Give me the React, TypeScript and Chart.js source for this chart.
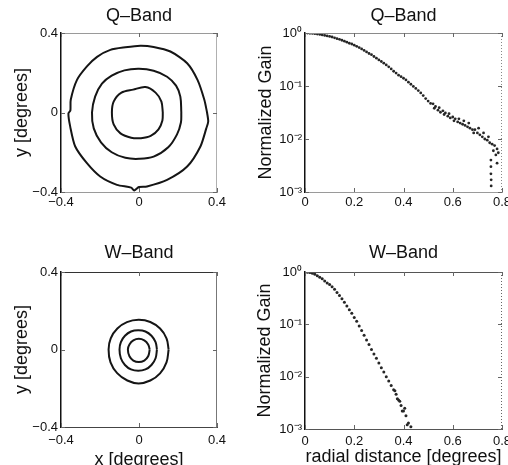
import React, { useEffect, useRef } from "react";
import { Chart, registerables } from "chart.js";

Chart.register(...registerables);

const FONT = "'Liberation Sans', Arial, Helvetica, sans-serif";

// ---------------- Data ----------------
const contourTicks = [-0.4, 0, 0.4];
const radialTicks = [0, 0.2, 0.4, 0.6, 0.8];
const gainTicks = [0.001, 0.01, 0.1, 1];
const gainTickLabels = ["10⁻³", "10⁻²", "10⁻¹", "10⁰"];

// Q-band beam contours (x, y in degrees)
const qOuterX = [0.349, 0.335, 0.3, 0.247, 0.161, 0.075, 0.007, -0.07, -0.147, -0.215, -0.267, -0.318, -0.35, -0.352, -0.362, -0.353, -0.327, -0.267, -0.199, -0.113, -0.04, -0.025, 0.0, 0.041, 0.144, 0.247, 0.315, 0.345, 0.355, 0.349];
const qOuterY = [0.0, 0.064, 0.164, 0.248, 0.307, 0.33, 0.336, 0.328, 0.315, 0.28, 0.232, 0.164, 0.064, 0.01, -0.005, -0.07, -0.171, -0.255, -0.322, -0.364, -0.378, -0.392, -0.375, -0.372, -0.339, -0.272, -0.171, -0.08, -0.045, 0.0];
const qMidX = [0.217, 0.212, 0.19, 0.144, 0.075, 0.0, -0.075, -0.14, -0.19, -0.225, -0.241, -0.232, -0.195, -0.14, -0.07, 0.0, 0.075, 0.15, 0.195, 0.215, 0.217];
const qMidY = [0.0, 0.08, 0.135, 0.18, 0.21, 0.22, 0.212, 0.185, 0.145, 0.08, 0.0, -0.08, -0.15, -0.2, -0.228, -0.233, -0.222, -0.175, -0.11, -0.05, 0.0];
const qInX = [0.122, 0.115, 0.085, 0.033, -0.03, -0.09, -0.13, -0.139, -0.13, -0.095, -0.04, 0.01, 0.06, 0.1, 0.12, 0.122];
const qInY = [0.0, 0.055, 0.1, 0.128, 0.115, 0.1, 0.055, 0.0, -0.06, -0.105, -0.127, -0.129, -0.118, -0.085, -0.04, 0.0];

// W-band beam contours (x, y in degrees)
const wOuterX = [0.152, 0.141, 0.108, 0.058, -0.002, -0.062, -0.111, -0.145, -0.156, -0.146, -0.112, -0.06, -0.002, 0.058, 0.108, 0.141, 0.152];
const wOuterY = [0.0, 0.058, 0.108, 0.142, 0.153, 0.141, 0.108, 0.058, 0.0, -0.066, -0.122, -0.16, -0.175, -0.16, -0.123, -0.066, 0.0];
const wMidX = [0.092, 0.085, 0.064, 0.033, -0.004, -0.041, -0.072, -0.093, -0.1, -0.093, -0.072, -0.041, -0.004, 0.033, 0.064, 0.085, 0.092];
const wMidY = [0.0, 0.038, 0.071, 0.093, 0.099, 0.093, 0.071, 0.038, 0.0, -0.045, -0.08, -0.103, -0.11, -0.103, -0.08, -0.045, 0.0];
const wInX = [0.055, 0.047, 0.027, -0.001, -0.029, -0.049, -0.057, -0.049, -0.029, -0.001, 0.027, 0.047, 0.055];
const wInY = [0.0, 0.026, 0.047, 0.055, 0.047, 0.026, 0.0, -0.035, -0.057, -0.065, -0.057, -0.035, 0.0];

// Q-band radial profile (radial distance in degrees, normalized gain)
const qRadius = [
  0.01, 0.02, 0.03, 0.04, 0.05, 0.06, 0.07, 0.08, 0.09, 0.1,
  0.11, 0.12, 0.13, 0.14, 0.15, 0.16, 0.17, 0.18, 0.19, 0.2,
  0.21, 0.22, 0.23, 0.24, 0.25, 0.26, 0.27, 0.28, 0.29, 0.3,
  0.31, 0.32, 0.33, 0.34, 0.35, 0.36, 0.37, 0.38, 0.39, 0.4,
  0.41, 0.42, 0.43, 0.44, 0.45, 0.46, 0.47, 0.48, 0.49, 0.5, 0.51,
  0.52, 0.525, 0.53, 0.54, 0.545, 0.55, 0.56, 0.565, 0.57, 0.58,
  0.585, 0.59, 0.6, 0.605, 0.61, 0.62, 0.625, 0.63, 0.64, 0.645,
  0.65, 0.66, 0.665, 0.67, 0.68, 0.685, 0.69, 0.7, 0.705, 0.71,
  0.72, 0.725, 0.73, 0.74, 0.745, 0.75, 0.755, 0.755, 0.755, 0.756,
  0.756, 0.76, 0.765, 0.77, 0.775, 0.78, 0.78, 0.785,
];
const qGain = [
  1.0, 0.99, 0.98, 0.97, 0.955, 0.94, 0.92, 0.9, 0.88, 0.86,
  0.84, 0.81, 0.78, 0.76, 0.73, 0.7, 0.67, 0.64, 0.62, 0.59,
  0.56, 0.53, 0.5, 0.47, 0.44, 0.41, 0.39, 0.36, 0.335, 0.31,
  0.29, 0.27, 0.25, 0.23, 0.21, 0.19, 0.175, 0.16, 0.15, 0.14,
  0.13, 0.118, 0.108, 0.098, 0.09, 0.082, 0.074, 0.066, 0.058, 0.052, 0.047,
  0.046, 0.038, 0.041, 0.035, 0.039, 0.032, 0.034, 0.029, 0.031, 0.027,
  0.03, 0.025, 0.026, 0.022, 0.024, 0.021, 0.024, 0.02, 0.019, 0.022,
  0.018, 0.017, 0.02, 0.016, 0.015, 0.013, 0.015, 0.013, 0.016, 0.012,
  0.011, 0.013, 0.01, 0.0095, 0.011, 0.0085, 0.004, 0.003, 0.0022, 0.0017,
  0.0013, 0.008, 0.006, 0.0075, 0.005, 0.0065, 0.0035, 0.0055,
];

// W-band radial profile
const wRadius = [
  0.0, 0.01, 0.02, 0.03, 0.04, 0.05, 0.06, 0.07, 0.08, 0.09,
  0.1, 0.11, 0.12, 0.13, 0.14, 0.15, 0.16, 0.17, 0.18, 0.19,
  0.2, 0.21, 0.22, 0.23, 0.24, 0.25, 0.26, 0.27, 0.28, 0.29,
  0.3, 0.31, 0.32, 0.33, 0.34, 0.35, 0.36, 0.37, 0.38, 0.39,
  0.4, 0.41, 0.42, 0.43,
  0.365, 0.375, 0.385, 0.395, 0.405, 0.415,
];
const wGain = [
  1.0, 0.993, 0.977, 0.944, 0.902, 0.851, 0.794, 0.74, 0.676, 0.617,
  0.575, 0.525, 0.468, 0.407, 0.355, 0.309, 0.263, 0.224, 0.191, 0.162,
  0.135, 0.115, 0.093, 0.076, 0.062, 0.05, 0.041, 0.033, 0.027, 0.0224,
  0.0182, 0.0148, 0.0123, 0.01, 0.0083, 0.0068, 0.0056, 0.0046, 0.0036, 0.0028,
  0.0022, 0.0018, 0.0013, 0.0011,
  0.0054, 0.0038, 0.0034, 0.0022, 0.0025, 0.0012,
];

// ---------------- Helpers ----------------
const pts = (xs: number[], ys: number[]) => xs.map((x, i) => ({ x, y: ys[i] }));
const fmt = (v: number) =>
  Math.abs(v) < 1e-9 ? "0" : (v < 0 ? "−" : "") + Math.abs(v).toFixed(1);

type FrameOpts = { top: string; right: string; rightDash?: number[] };

const framePlugin = (f: FrameOpts) => ({
  id: "frame",
  afterDatasetsDraw(chart: any) {
    const { ctx, chartArea: a, scales } = chart;
    ctx.save();
    ctx.lineWidth = 1;
    ctx.strokeStyle = f.top;
    ctx.beginPath();
    ctx.moveTo(a.left, a.top + 0.5);
    ctx.lineTo(a.right, a.top + 0.5);
    ctx.stroke();
    ctx.strokeStyle = f.right;
    if (f.rightDash) ctx.setLineDash(f.rightDash);
    ctx.beginPath();
    ctx.moveTo(a.right - 0.5, a.top);
    ctx.lineTo(a.right - 0.5, a.bottom);
    ctx.stroke();
    ctx.setLineDash([]);
    // inward tick marks (MATLAB style)
    ctx.strokeStyle = "#666";
    const L = 4;
    for (const t of scales.x.ticks) {
      const px = Math.round(scales.x.getPixelForValue(t.value)) + 0.5;
      ctx.beginPath();
      ctx.moveTo(px, a.bottom);
      ctx.lineTo(px, a.bottom - L);
      ctx.moveTo(px, a.top);
      ctx.lineTo(px, a.top + L);
      ctx.stroke();
    }
    for (const t of scales.y.ticks) {
      const py = Math.round(scales.y.getPixelForValue(t.value)) + 0.5;
      ctx.beginPath();
      ctx.moveTo(a.left, py);
      ctx.lineTo(a.left + L, py);
      ctx.moveTo(a.right, py);
      ctx.lineTo(a.right - L, py);
      ctx.stroke();
    }
    ctx.restore();
  },
});

type PanelCfg = {
  title: string;
  titleTop: number;
  titleBottom: number;
  padLeft: number;
  padRight: number;
  yWidth: number;
  xHeight: number;
  xTickPad: number;
  yTitle: string;
  xTitle?: string;
  xTitleBottom?: number;
  xMin: number;
  xMax: number;
  xTicks: number[];
  log: boolean;
  datasets: any[];
  frame: FrameOpts;
  xBorder: string;
};

function buildConfig(p: PanelCfg): any {
  const yCommon = {
    grid: { display: false, drawTicks: false },
    border: { display: true, color: "#111", width: 1.5 },
    afterFit: (s: any) => {
      s.width = p.yWidth;
    },
    title: {
      display: true,
      text: p.yTitle,
      color: "#111",
      font: { family: FONT, size: 18 },
      padding: 0,
    },
  };
  return {
    type: "scatter",
    data: { datasets: p.datasets },
    plugins: [framePlugin(p.frame)],
    options: {
      responsive: false,
      animation: false,
      events: [],
      layout: { padding: { left: p.padLeft, right: p.padRight, top: 0, bottom: 0 } },
      plugins: {
        legend: { display: false },
        tooltip: { enabled: false },
        title: {
          display: true,
          text: p.title,
          fullSize: false,
          color: "#111",
          font: { family: FONT, size: 18, weight: "normal" },
          padding: { top: p.titleTop, bottom: p.titleBottom },
        },
      },
      scales: {
        x: {
          type: "linear",
          min: p.xMin,
          max: p.xMax,
          grid: { display: false, drawTicks: false },
          border: { display: true, color: p.xBorder, width: 1 },
          afterBuildTicks: (s: any) => {
            s.ticks = p.xTicks.map((value) => ({ value }));
          },
          afterFit: (s: any) => {
            s.height = p.xHeight;
          },
          ticks: {
            color: "#111",
            padding: p.xTickPad,
            maxRotation: 0,
            autoSkip: false,
            font: { family: FONT, size: 13 },
            callback: (v: any) => fmt(Number(v)),
          },
          title: p.xTitle
            ? {
                display: true,
                text: p.xTitle,
                color: "#111",
                font: { family: FONT, size: 18 },
                padding: { top: 0, bottom: p.xTitleBottom ?? 0 },
              }
            : { display: false },
        },
        y: p.log
          ? {
              ...yCommon,
              type: "logarithmic",
              min: 0.001,
              max: 1,
              afterBuildTicks: (s: any) => {
                s.ticks = gainTicks.map((value) => ({ value }));
              },
              ticks: {
                color: "#111",
                padding: 3,
                autoSkip: false,
                font: { family: FONT, size: 13 },
                callback: (_v: any, i: number) => gainTickLabels[i],
              },
            }
          : {
              ...yCommon,
              type: "linear",
              min: -0.4,
              max: 0.4,
              afterBuildTicks: (s: any) => {
                s.ticks = contourTicks.map((value) => ({ value }));
              },
              ticks: {
                color: "#111",
                padding: 3,
                autoSkip: false,
                font: { family: FONT, size: 13 },
                callback: (v: any) => fmt(Number(v)),
              },
            },
      },
    },
  };
}

const contourSet = (xs: number[], ys: number[], tension: number) => ({
  data: pts(xs, ys),
  showLine: true,
  pointRadius: 0,
  borderColor: "#151515",
  borderWidth: 2,
  tension,
});

const dotSet = (xs: number[], ys: number[], r: number) => ({
  data: pts(xs, ys),
  showLine: false,
  pointRadius: r,
  pointBorderWidth: 0,
  backgroundColor: "#262626",
  borderColor: "#262626",
});

function Panel(props: { left: number; top: number; width: number; height: number; cfg: PanelCfg }) {
  const ref = useRef<HTMLCanvasElement>(null);
  useEffect(() => {
    const chart = new Chart(ref.current as HTMLCanvasElement, buildConfig(props.cfg));
    return () => chart.destroy();
  }, []);
  return (
    <canvas
      ref={ref}
      width={props.width}
      height={props.height}
      style={{
        position: "absolute",
        left: props.left,
        top: props.top,
        width: props.width,
        height: props.height,
      }}
    />
  );
}

export default function App() {
  const qContour: PanelCfg = {
    title: "Q–Band",
    titleTop: 5,
    titleBottom: 6.4,
    padLeft: 11,
    padRight: 37,
    yWidth: 50,
    xHeight: 40,
    xTickPad: 3,
    yTitle: "y [degrees]",
    xMin: -0.4,
    xMax: 0.4,
    xTicks: contourTicks,
    log: false,
    datasets: [
      contourSet(qOuterX, qOuterY, 0.25),
      contourSet(qMidX, qMidY, 0.35),
      contourSet(qInX, qInY, 0.3),
    ],
    frame: { top: "#9a9a9a", right: "#b0b0b0" },
    xBorder: "#9a9a9a",
  };
  const qProfile: PanelCfg = {
    title: "Q–Band",
    titleTop: 5,
    titleBottom: 6.4,
    padLeft: 1,
    padRight: 22,
    yWidth: 50,
    xHeight: 40,
    xTickPad: 3,
    yTitle: "Normalized Gain",
    xMin: 0,
    xMax: 0.8,
    xTicks: radialTicks,
    log: true,
    datasets: [dotSet(qRadius, qGain, 1.4)],
    frame: { top: "#8a8a8a", right: "#888", rightDash: [1, 2] },
    xBorder: "#9a9a9a",
  };
  const wContour: PanelCfg = {
    title: "W–Band",
    titleTop: 10,
    titleBottom: 8.4,
    padLeft: 11,
    padRight: 37,
    yWidth: 50,
    xHeight: 45,
    xTickPad: 6,
    yTitle: "y [degrees]",
    xTitle: "x [degrees]",
    xTitleBottom: 1.2,
    xMin: -0.4,
    xMax: 0.4,
    xTicks: contourTicks,
    log: false,
    datasets: [
      contourSet(wOuterX, wOuterY, 0.4),
      contourSet(wMidX, wMidY, 0.4),
      contourSet(wInX, wInY, 0.4),
    ],
    frame: { top: "#333", right: "#777" },
    xBorder: "#444",
  };
  const wProfile: PanelCfg = {
    title: "W–Band",
    titleTop: 10,
    titleBottom: 8.4,
    padLeft: 0,
    padRight: 22,
    yWidth: 51,
    xHeight: 43,
    xTickPad: 5,
    yTitle: "Normalized Gain",
    xTitle: "radial distance [degrees]",
    xTitleBottom: 4.2,
    xMin: 0,
    xMax: 0.8,
    xTicks: radialTicks,
    log: true,
    datasets: [dotSet(wRadius, wGain, 1.5)],
    frame: { top: "#555", right: "#666", rightDash: [1, 2] },
    xBorder: "#555",
  };
  return (
    <div
      style={{
        position: "fixed",
        left: 0,
        top: 0,
        width: 508,
        height: 465,
        overflow: "hidden",
        background: "#fff",
      }}
    >
      <Panel left={0} top={0} width={254} height={232} cfg={qContour} />
      <Panel left={254} top={0} width={270} height={232} cfg={qProfile} />
      <Panel left={0} top={232} width={254} height={240} cfg={wContour} />
      <Panel left={254} top={232} width={270} height={240} cfg={wProfile} />
    </div>
  );
}
